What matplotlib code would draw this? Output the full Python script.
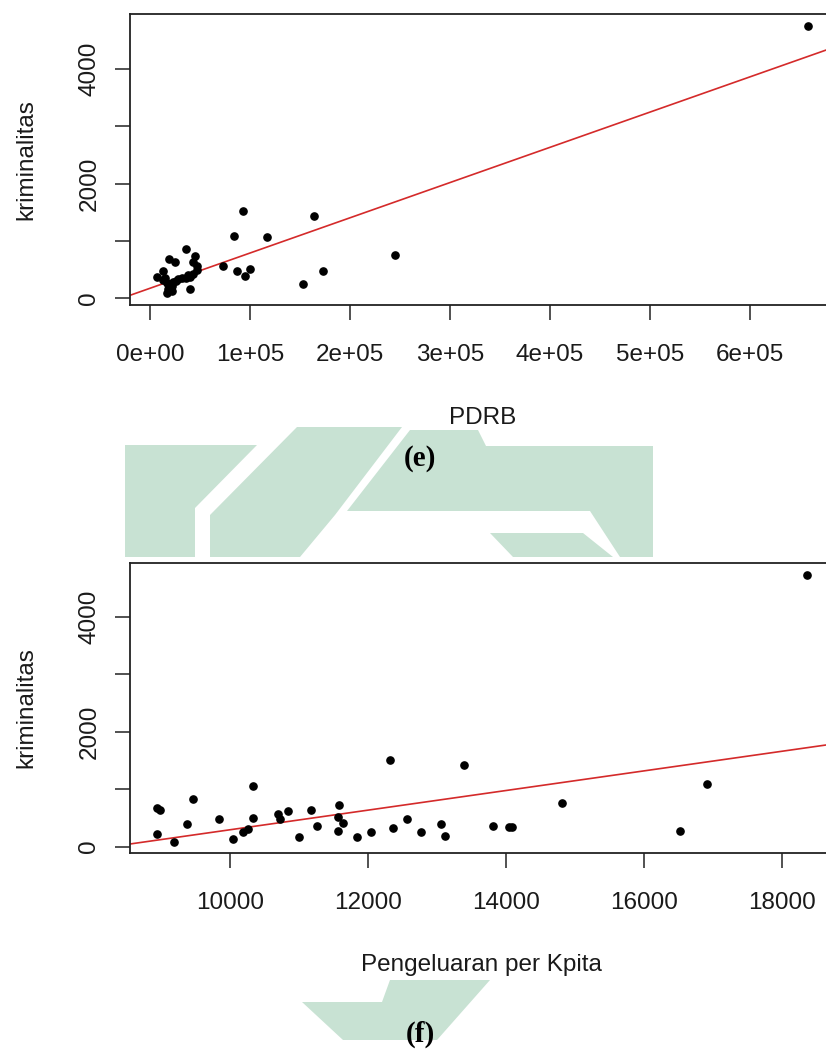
"""Scatter plots of kriminalitas vs PDRB (e) and Pengeluaran per Kpita (f)."""

import matplotlib

matplotlib.use("Agg")
import matplotlib.pyplot as plt
from matplotlib.patches import Polygon

# panel (e): PDRB vs kriminalitas
pdrb = [93300, 164300, 84000, 116700, 245000, 73300, 86700, 95000, 100000,
        153300, 172700, 658000,
        35700, 19300, 25000, 45000, 43300, 12700, 6700, 13300, 16700, 20000,
        23300, 18300, 16700, 21700, 31700, 40000, 43300, 47300, 46700, 40000,
        28000, 36000, 22000, 38000, 26000, 15000]
krim_e = [1524, 1440, 1093, 1075, 756, 564, 476, 389, 511,
          255, 476, 4757,
          855, 686, 639, 743, 639, 476, 377, 319, 262, 244,
          290, 157, 87, 127, 349, 377, 419, 494, 569, 162,
          330, 360, 210, 400, 300, 350]
coef_e = (175.0, 0.00615)  # intercept, slope of the fitted line
xticks_e = [0, 100000, 200000, 300000, 400000, 500000, 600000]
xticklabels_e = ["0e+00", "1e+05", "2e+05", "3e+05", "4e+05", "5e+05", "6e+05"]

# panel (f): Pengeluaran per Kpita vs kriminalitas
pengeluaran = [8938, 8986, 8938, 9188, 9372, 9468, 9841, 10048, 10193, 10266,
               10328, 10328, 10700, 10725, 10845, 11005, 11169, 11266, 11570,
               11584, 11642, 11565, 11845, 12039, 12319, 12367, 12570, 12763,
               13062, 13111, 13391, 13816, 14050, 14085, 14816, 16522, 16917,
               18358]
krim_f = [668, 638, 221, 82, 390, 835, 476, 139, 256, 302,
          1061, 499, 569, 487, 615, 163, 638, 355, 522,
          725, 417, 278, 163, 250, 1508, 330, 476, 250,
          390, 191, 1426, 360, 348, 340, 755, 273, 1090,
          4730]
coef_f = (-1413.0, 0.1707)
xticks_f = [10000, 12000, 14000, 16000, 18000]

yticks = [0, 1000, 2000, 3000, 4000]
yticklabels = ["0", "", "2000", "", "4000"]

W, H = 826, 1050
TEXT = "#1a1a1a"
SANS = ["Liberation Sans", "DejaVu Sans"]
SERIF = ["Liberation Serif", "DejaVu Serif"]
WM = "#c8e2d3"


def fig_xy(points):
    return [(x / W, 1 - y / H) for x, y in points]


def box(left, top, right, bottom):
    return [left / W, 1 - bottom / H, (right - left) / W, (bottom - top) / H]


def style_axes(ax, xticks, xticklabels, xlabel):
    for side in ("top", "bottom", "left", "right"):
        ax.spines[side].set_linewidth(1.3)
        ax.spines[side].set_color("#222222")
    ax.set_xticks(xticks, xticklabels)
    ax.set_yticks(yticks, yticklabels)
    ax.tick_params(direction="out", length=10.8, width=1.1, color="#222222",
                   labelsize=17.5, labelcolor=TEXT)
    ax.tick_params(axis="x", pad=17)
    ax.tick_params(axis="y", pad=10.5)
    for lab in ax.get_yticklabels():
        lab.set_rotation(90)
        lab.set_va("center")
        lab.set_family(SANS)
    for lab in ax.get_xticklabels():
        lab.set_family(SANS)
    ax.set_xlabel(xlabel, fontsize=17.5, color=TEXT, family=SANS, va="center")
    ax.set_ylabel("kriminalitas", fontsize=17.5, color=TEXT, family=SANS,
                  va="center")


fig = plt.figure(figsize=(W / 100, H / 100), dpi=100, facecolor="white")

# faint watermark behind the figure
watermark = [
    [(125, 445), (257, 445), (195, 508), (195, 557), (125, 557)],
    [(297, 427), (402, 427), (335, 515), (300, 557), (210, 557), (210, 515)],
    [(410, 430), (478, 430), (486, 446), (653, 446), (653, 557), (620, 557),
     (590, 511), (347, 511)],
    [(490, 533), (583, 533), (613, 557), (513, 557)],
    [(302, 1002), (382, 1002), (390, 980), (490, 980), (437, 1040), (343, 1040)],
]
for poly in watermark:
    fig.patches.append(Polygon(fig_xy(poly), closed=True, facecolor=WM,
                               edgecolor="none", transform=fig.transFigure,
                               figure=fig, zorder=0))

# panel (e)
ax1 = fig.add_axes(box(130, 14, 836, 305))
ax1.plot(pdrb, krim_e, "o", color="black", ms=5.2, zorder=3)
ax1.axline((0, coef_e[0]), slope=coef_e[1], color="#d42a2a", lw=1.2, zorder=2)
ax1.set_xlim(-20000, 686000)
ax1.set_ylim(-117, 4962)
style_axes(ax1, xticks_e, xticklabels_e, "PDRB")
ax1.xaxis.set_label_coords(0.5, -(418 - 305) / 291)
ax1.yaxis.set_label_coords(-(130 - 26) / 706, 0.5)

# panel (f)
ax2 = fig.add_axes(box(130, 563, 832, 853))
ax2.plot(pengeluaran, krim_f, "o", color="black", ms=5.2, zorder=3)
ax2.axline((0, coef_f[0]), slope=coef_f[1], color="#d42a2a", lw=1.2, zorder=2)
ax2.set_xlim(8551, 18725)
ax2.set_ylim(-110, 4934)
style_axes(ax2, xticks_f, [str(v) for v in xticks_f], "Pengeluaran per Kpita")
ax2.xaxis.set_label_coords(0.5, -(965 - 853) / 290)
ax2.yaxis.set_label_coords(-(130 - 26) / 702, 0.5)

fig.text(420 / W, 1 - 458 / H, "(e)", ha="center", va="center",
         fontsize=21, fontweight="bold", family=SERIF, color="black", zorder=5)
fig.text(420 / W, 1 - 1048 / H, "(f)", ha="center", va="bottom",
         fontsize=21, fontweight="bold", family=SERIF, color="black", zorder=5)

fig.savefig("out.png", dpi=100, facecolor="white")
plt.close(fig)
